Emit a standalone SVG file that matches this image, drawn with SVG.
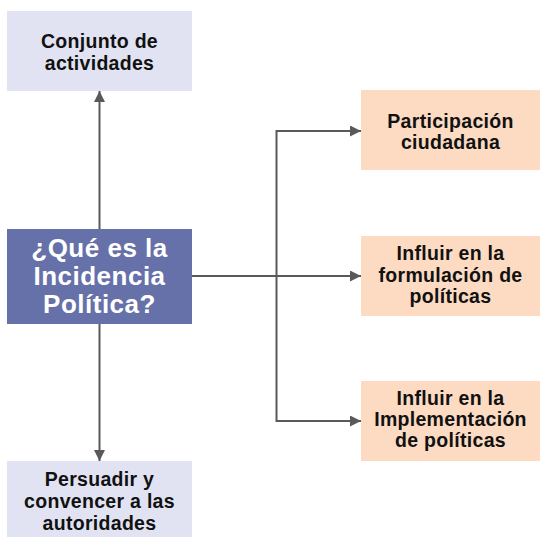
<svg xmlns="http://www.w3.org/2000/svg" width="540" height="537" viewBox="0 0 540 537">
<style>
.lb{fill:#E1E3F3}
.pe{fill:#FCDBC2}
.ct{fill:#6670A9}
.t{font-family:"Liberation Sans",Arial,sans-serif;font-weight:bold;font-size:19.5px;fill:#111;text-anchor:middle;letter-spacing:0.3px}
.tw{font-family:"Liberation Sans",Arial,sans-serif;font-weight:bold;font-size:26px;fill:#fff;text-anchor:middle;letter-spacing:0.5px}
.c{stroke:#595959;stroke-width:2;fill:none}
</style>
<defs>
<marker id="ah" markerUnits="userSpaceOnUse" markerWidth="11" markerHeight="11" refX="11" refY="5.5" orient="auto">
<path d="M0,0 L11,5.5 L0,11 z" fill="#595959"/>
</marker>
</defs>
<rect width="540" height="537" fill="#fff"/>
<g id="connectors">
<path class="c" d="M99.5,229 V91" marker-end="url(#ah)"/>
<path class="c" d="M99.5,324 V461" marker-end="url(#ah)"/>
<path class="c" d="M192,276 H361" marker-end="url(#ah)"/>
<path class="c" d="M276.5,276 V131 H361" marker-end="url(#ah)"/>
<path class="c" d="M276.5,276 V421 H361" marker-end="url(#ah)"/>
</g>
<g id="n_top">
<rect class="lb" x="7" y="11" width="185" height="80"/>
<text class="t" x="99.5" y="48">Conjunto de</text>
<text class="t" x="99.5" y="70">actividades</text>
</g>
<g id="n_center">
<rect class="ct" x="7" y="229" width="185" height="95"/>
<text class="tw" x="99.5" y="257">¿Qué es la</text>
<text class="tw" x="99.5" y="285">Incidencia</text>
<text class="tw" x="99.5" y="313">Política?</text>
</g>
<g id="n_bottom">
<rect class="lb" x="7" y="461" width="185" height="76"/>
<text class="t" x="99.5" y="486">Persuadir y</text>
<text class="t" x="99.5" y="508">convencer a las</text>
<text class="t" x="99.5" y="530">autoridades</text>
</g>
<g id="n_r1">
<rect class="pe" x="361" y="90" width="179" height="80"/>
<text class="t" x="450.5" y="128">Participación</text>
<text class="t" x="450.5" y="149">ciudadana</text>
</g>
<g id="n_r2">
<rect class="pe" x="361" y="236" width="179" height="80"/>
<text class="t" x="450.5" y="260">Influir en la</text>
<text class="t" x="450.5" y="281.5">formulación de</text>
<text class="t" x="450.5" y="303">políticas</text>
</g>
<g id="n_r3">
<rect class="pe" x="361" y="381" width="179" height="80"/>
<text class="t" x="450.5" y="405">Influir en la</text>
<text class="t" x="450.5" y="426">Implementación</text>
<text class="t" x="450.5" y="447">de políticas</text>
</g>
</svg>
